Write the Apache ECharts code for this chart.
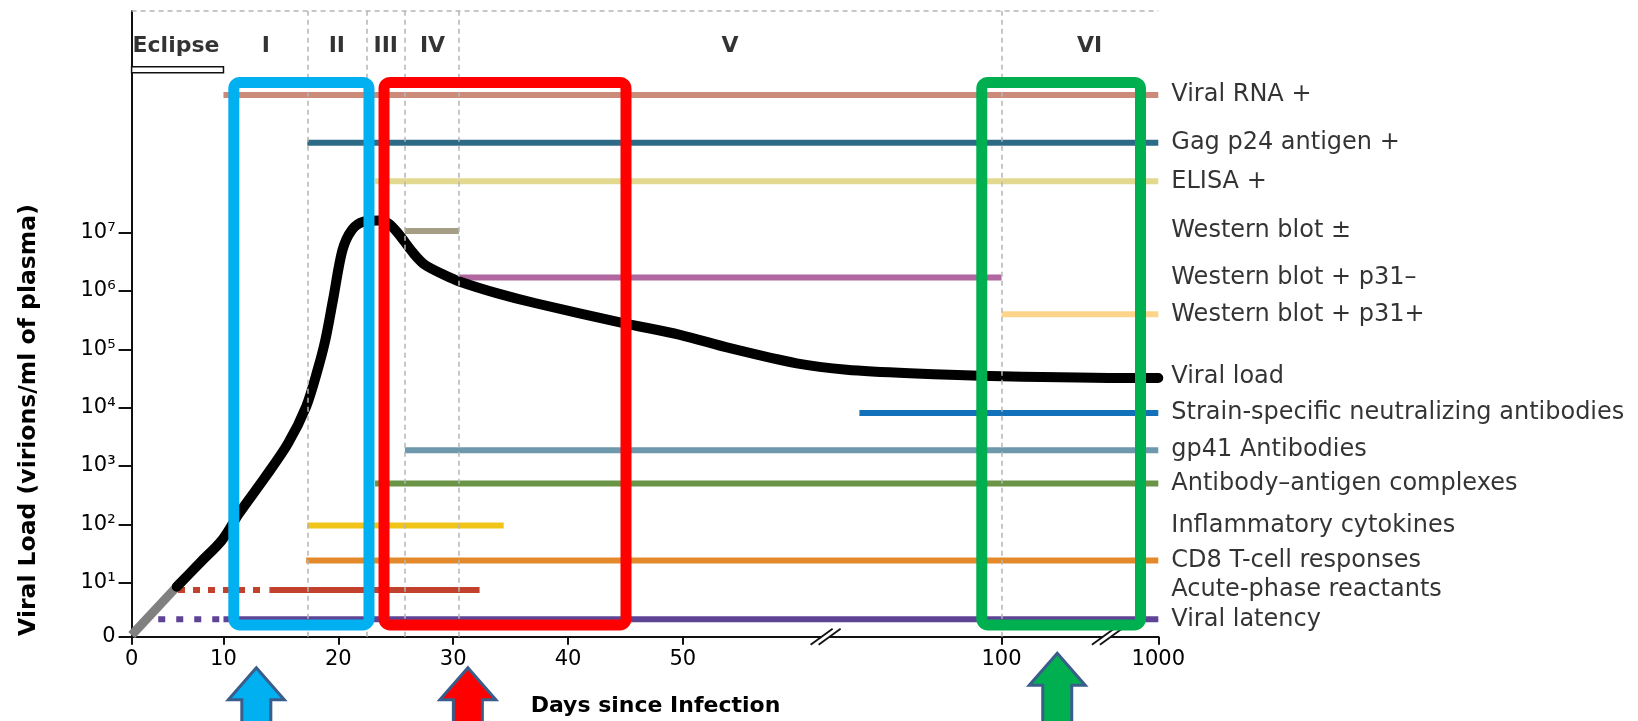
<!DOCTYPE html>
<html><head><meta charset="utf-8">
<script src="https://cdn.jsdelivr.net/npm/echarts@6/dist/echarts.min.js"></script>
<style>html,body{margin:0;padding:0;background:#fff;}#c{width:1638px;height:721px;}</style>
</head><body><div id="c"></div>
<script>
// ---------------- data ----------------
const dayTicks = [0, 10, 20, 30, 40, 50, 100, 1000];
const levelTicks = [0, 1, 2, 3, 4, 5, 6, 7];
const levelTickLabels = ['0', '10¹', '10²', '10³', '10⁴', '10⁵', '10⁶', '10⁷'];

const phaseNames = ['Eclipse', 'I', 'II', 'III', 'IV', 'V', 'VI'];
const phaseBounds = [0, 10, 17.3, 22.5, 25.8, 30.5, 100, 1000];
const phaseLabelDays = [4.83, 13.7, 19.87, 24.13, 28.2, 57.4, 605];

const rowNames = ['Viral RNA +', 'Gag p24 antigen +', 'ELISA +', 'Western blot ±', 'Western blot + p31–',
  'Western blot + p31+', 'Viral load', 'Strain-specific neutralizing antibodies', 'gp41 Antibodies',
  'Antibody–antigen complexes', 'Inflammatory cytokines', 'CD8 T-cell responses', 'Acute-phase reactants', 'Viral latency'];
const rowLevels = [9.36, 8.54, 7.88, 7.03, 6.23, 5.60, 4.53, 3.91, 3.27, 2.70, 1.98, 1.38, 0.875, 0.372];
const barStart = [10, 17.3, 23.2, 25.8, 30.5, 100, null, 77.7, 25.8, 23.2, 17.3, 17.2, 14.0, 10];
const barEnd = [1000, 1000, 1000, 30.5, 100, 1000, null, 1000, 1000, 1000, 34.4, 1000, 32.3, 1000];
const earlyStart = [null, null, null, null, null, null, null, null, null, null, null, null, 5.05, 2.9];
const earlyEnd = [null, null, null, null, null, null, null, null, null, null, null, null, 13.5, 9.6];

const preDays = [0, 4.91];
const preLevels = [0.1, 0.93];
const vlDays = [4.91, 7.5, 9.84, 11.37, 13.6, 15.6, 17.2, 18.2, 18.87, 19.54, 20.36, 21.19, 22.2, 23.53, 24.36, 25.2,
  26.53, 27.53, 29.19, 30.6, 33.86, 37.19, 44.82, 49.75, 57.4, 67.86, 75.7, 85.6, 100, 868.8, 1000];
const vlLevels = [0.93, 1.35, 1.73, 2.19, 2.8, 3.38, 4.02, 4.65, 5.16, 5.85, 6.70, 7.05, 7.19, 7.21, 7.16, 6.99,
  6.65, 6.45, 6.28, 6.16, 5.96, 5.79, 5.45, 5.25, 5.02, 4.76, 4.65, 4.59, 4.54, 4.51, 4.51];

const eclipseDays = [0, 10];
const eclipseLevel = 9.795;
const phaseLabelLevel = 10.19;

const breakDays = [72.4, 705];

const boxStart = [10.9, 23.98, 96.9];
const boxEnd = [22.67, 45.05, 897.8];
const boxTop = [9.575, 9.575, 9.575];
const boxBottom = [0.275, 0.275, 0.275];
const boxColors = ['#00B0F0', '#FF0000', '#00B050'];

const arrowDays = [12.86, 31.28, 419.8];
const arrowTipLevels = [-0.46, -0.46, -0.21];

// ---------------- styles ----------------
const barColors = ['#CC8A78', '#2D6A86', '#E2D88F', '#A59D84', '#B0669E', '#FDD58A', null, '#1271B8', '#6E98AC',
  '#6A9446', '#F0C419', '#E3892B', '#C2412D', '#5F4496'];
const FONT = 'DejaVu Sans';
const TXT = '#000';

// piecewise (broken) day scale -> axis units
const U = d => d <= 10 ? 0.8 * d : d <= 50 ? d - 2 : d <= 100 ? 48 + (d - 50) * 27.75 / 50 : 75.75 + (d - 100) * 13.65 / 900;
const U_MAX = U(1000);
const Y_ZERO = 0.074, Y_MAX = 10.8;
const L = l => l === 0 ? Y_ZERO : l;

const xTickVals = dayTicks.map(U);
const yTickVals = levelTicks.map(L);
const nearest = (arr, v) => { let bi = 0; arr.forEach((a, i) => { if (Math.abs(a - v) < Math.abs(arr[bi] - v)) bi = i; }); return bi; };

const barData = [], earlyData = [];
rowNames.forEach((n, i) => {
  if (barStart[i] != null) barData.push([U(barStart[i]), U(barEnd[i]), rowLevels[i], i]);
  if (earlyStart[i] != null) earlyData.push([U(earlyStart[i]), U(earlyEnd[i]), rowLevels[i], i]);
});

const phaseLabelData = phaseNames.map((n, i) => ({ name: n, value: [U(phaseLabelDays[i]), phaseLabelLevel] }));

const chart = echarts.init(document.getElementById('c'), null, { renderer: 'canvas' });
chart.setOption({
  animation: false,
  backgroundColor: '#fff',
  grid: { left: 131.6, top: 11, right: 1638 - 1158.3, bottom: 721 - 636.7 },
  xAxis: {
    type: 'value', min: 0, max: U_MAX,
    axisLine: { show: true, onZero: false, lineStyle: { color: '#111', width: 2 } },
    axisTick: { show: true, customValues: xTickVals, length: 8, lineStyle: { color: '#111', width: 2 } },
    axisLabel: {
      show: true, customValues: xTickVals, hideOverlap: false, margin: 12,
      formatter: v => String(dayTicks[nearest(xTickVals, v)]),
      fontFamily: FONT, fontSize: 21, color: TXT
    },
    splitLine: { show: false }
  },
  yAxis: {
    type: 'value', min: Y_ZERO, max: Y_MAX,
    axisLine: { show: true, onZero: false, lineStyle: { color: '#111', width: 2 } },
    axisTick: { show: true, customValues: yTickVals, length: 13, lineStyle: { color: '#111', width: 2 } },
    axisLabel: {
      show: true, customValues: yTickVals, hideOverlap: false, margin: 16,
      formatter: v => levelTickLabels[nearest(yTickVals, v)],
      fontFamily: FONT, fontSize: 21, color: TXT
    },
    splitLine: { show: false }
  },
  graphic: [
    { type: 'text', x: 29, y: 420, rotation: Math.PI / 2,
      style: { text: 'Viral Load (virions/ml of plasma)', font: 'bold 23.5px "DejaVu Sans"', fill: TXT, align: 'center', verticalAlign: 'middle' } },
    { type: 'text', x: 655.5, y: 706,
      style: { text: 'Days since Infection', font: 'bold 22px "DejaVu Sans"', fill: TXT, align: 'center', verticalAlign: 'middle' } }
  ],
  series: [
    { // pre-detection (gray) segment + phase dashed lines
      type: 'line', data: preDays.map((d, i) => [U(d), L(preLevels[i])]), symbol: 'none', clip: false, z: 3,
      lineStyle: { color: '#808080', width: 9 },
      markLine: {
        silent: true, symbol: ['none', 'none'], label: { show: false },
        lineStyle: { type: [5, 4], color: '#B5B5B5', width: 1.5 },
        data: phaseBounds.slice(2, 7).map(d => ({ xAxis: U(d) })).concat([{ yAxis: Y_MAX }])
      }
    },
    { // marker bars
      type: 'custom', data: barData, z: 2, clip: false,
      renderItem: (p, api) => {
        const a = api.coord([api.value(0), api.value(2)]), b = api.coord([api.value(1), api.value(2)]);
        return { type: 'line', shape: { x1: a[0], y1: a[1], x2: b[0], y2: b[1] },
          style: { stroke: barColors[api.value(3)], lineWidth: 6 } };
      }
    },
    { // early dotted/dashed parts
      type: 'custom', data: earlyData, z: 2, clip: false,
      renderItem: (p, api) => {
        const a = api.coord([api.value(0), api.value(2)]), b = api.coord([api.value(1), api.value(2)]);
        return { type: 'line', shape: { x1: a[0], y1: a[1], x2: b[0], y2: b[1] },
          style: { stroke: barColors[api.value(3)], lineWidth: 6, lineDash: api.value(3) === 13 ? [7, 11] : [7, 8] } };
      }
    },
    { // viral load curve
      type: 'line', data: vlDays.map((d, i) => [U(d), vlLevels[i]]), symbol: 'none', smooth: 0.3,
      clip: false, z: 4, lineStyle: { color: '#000', width: 10, cap: 'round', join: 'round' }
    },
    { // right-hand row labels
      type: 'scatter', symbolSize: 0, z: 5,
      data: rowNames.map((n, i) => ({ name: n, value: [U_MAX, rowLevels[i]] })),
      label: { show: true, position: 'right', distance: 13, formatter: p => p.name, fontFamily: FONT, fontSize: 24, color: TXT }
    },
    { // phase labels
      type: 'scatter', symbolSize: 0, z: 5, data: phaseLabelData,
      label: { show: true, position: 'inside', formatter: p => p.name, fontFamily: FONT, fontWeight: 'bold', fontSize: 22, color: '#000' }
    },
    { // eclipse bar
      type: 'custom', z: 5, clip: false, data: [[U(eclipseDays[0]), U(eclipseDays[1]), eclipseLevel]],
      renderItem: (p, api) => {
        const a = api.coord([api.value(0), api.value(2)]), b = api.coord([api.value(1), api.value(2)]);
        return { type: 'rect', shape: { x: a[0], y: a[1] - 3, width: b[0] - a[0], height: 6 },
          style: { fill: '#fff', stroke: '#111', lineWidth: 1.5 } };
      }
    },
    { // axis break marks
      type: 'custom', z: 6, clip: false, data: breakDays.map(d => [U(d), Y_ZERO]),
      renderItem: (p, api) => {
        const c = api.coord([api.value(0), api.value(1)]);
        const dx = 11, dy = 8, o = 4;
        return { type: 'group', children: [
          { type: 'polygon', shape: { points: [[c[0] - o - dx, c[1] + dy], [c[0] - o + dx, c[1] - dy], [c[0] + o + dx, c[1] - dy], [c[0] + o - dx, c[1] + dy]] },
            style: { fill: '#fff' } },
          { type: 'line', shape: { x1: c[0] - o - dx, y1: c[1] + dy, x2: c[0] - o + dx, y2: c[1] - dy }, style: { stroke: '#111', lineWidth: 1.8 } },
          { type: 'line', shape: { x1: c[0] + o - dx, y1: c[1] + dy, x2: c[0] + o + dx, y2: c[1] - dy }, style: { stroke: '#111', lineWidth: 1.8 } }
        ] };
      }
    },
    { // highlight boxes
      type: 'custom', z: 10, clip: false,
      data: boxStart.map((s, i) => [U(s), U(boxEnd[i]), boxTop[i], boxBottom[i]]),
      renderItem: (p, api) => {
        const a = api.coord([api.value(0), api.value(2)]), b = api.coord([api.value(1), api.value(3)]);
        return { type: 'rect', shape: { x: a[0], y: a[1], width: b[0] - a[0], height: b[1] - a[1], r: 6 },
          style: { fill: 'none', stroke: boxColors[p.dataIndex], lineWidth: 11 } };
      }
    },
    { // arrows
      type: 'custom', z: 10, clip: false,
      data: arrowDays.map((d, i) => [U(d), arrowTipLevels[i]]),
      renderItem: (p, api) => {
        const t = api.coord([api.value(0), api.value(1)]);
        const H = api.getHeight() + 10, hw = 28, hh = 32, sw = 14.5;
        return { type: 'polygon', shape: { points: [[t[0], t[1]], [t[0] + hw, t[1] + hh], [t[0] + sw, t[1] + hh], [t[0] + sw, H],
          [t[0] - sw, H], [t[0] - sw, t[1] + hh], [t[0] - hw, t[1] + hh]] },
          style: { fill: boxColors[p.dataIndex], stroke: '#3A5D8A', lineWidth: 3, lineJoin: 'miter' } };
      }
    }
  ]
});
</script></body></html>
